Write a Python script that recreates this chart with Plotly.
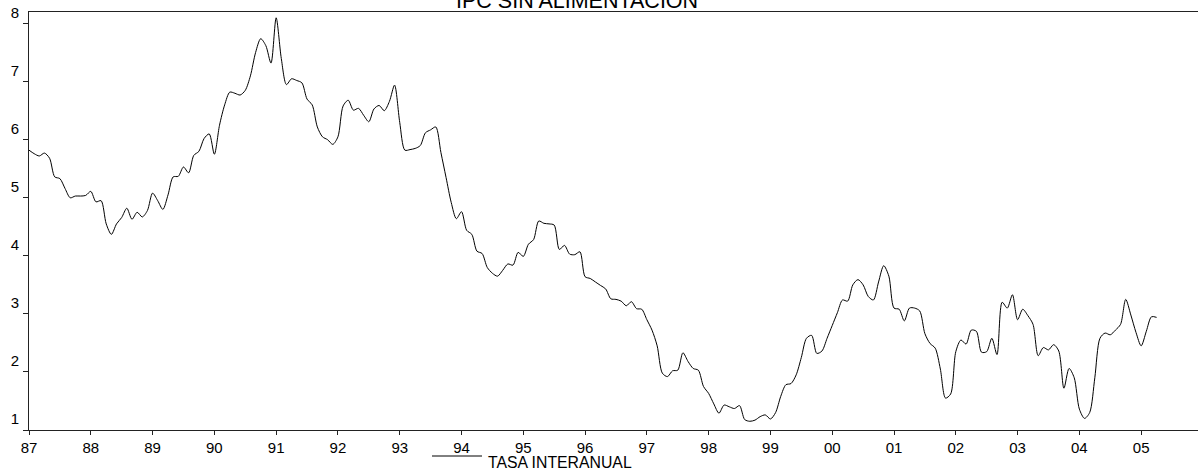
import plotly.graph_objects as go

# Monthly year-on-year rate, Jan 1987 .. Apr 2005
start_year = 1987
tasa_interanual = [
    # 1987
    5.82, 5.76, 5.72, 5.77, 5.68, 5.36, 5.33, 5.16, 5.00, 5.03, 5.03, 5.04,
    # 1988
    5.11, 4.93, 4.95, 4.55, 4.37, 4.55, 4.66, 4.82, 4.63, 4.75, 4.67, 4.78,
    # 1989
    5.08, 4.95, 4.80, 5.05, 5.36, 5.37, 5.53, 5.43, 5.73, 5.80, 6.02, 6.10,
    # 1990
    5.75, 6.25, 6.60, 6.82, 6.80, 6.77, 6.85, 7.10, 7.50, 7.74, 7.62, 7.32,
    # 1991
    8.10, 7.40, 6.95, 7.05, 7.02, 6.98, 6.70, 6.60, 6.22, 6.05, 6.00, 5.92,
    # 1992
    6.05, 6.58, 6.68, 6.51, 6.54, 6.42, 6.31, 6.53, 6.59, 6.50, 6.66, 6.94,
    # 1993
    6.30, 5.82, 5.83, 5.85, 5.90, 6.12, 6.17, 6.22, 5.78, 5.35, 4.92, 4.64,
    # 1994
    4.76, 4.44, 4.37, 4.08, 4.04, 3.80, 3.70, 3.65, 3.75, 3.86, 3.84, 4.06,
    # 1995
    3.99, 4.20, 4.28, 4.60, 4.56, 4.55, 4.53, 4.11, 4.18, 4.03, 4.02, 4.07,
    # 1996
    3.64, 3.61, 3.55, 3.49, 3.43, 3.26, 3.25, 3.22, 3.14, 3.21, 3.09, 3.08,
    # 1997
    2.90, 2.72, 2.45, 1.98, 1.92, 2.02, 2.03, 2.33, 2.18, 2.06, 2.03, 1.75,
    # 1998
    1.63, 1.45, 1.29, 1.43, 1.40, 1.37, 1.42, 1.18, 1.15, 1.17, 1.23, 1.26,
    # 1999
    1.19, 1.30, 1.58, 1.78, 1.80, 1.95, 2.25, 2.58, 2.63, 2.32, 2.36, 2.58,
    # 2000
    2.80, 3.02, 3.24, 3.22, 3.50, 3.59, 3.50, 3.30, 3.24, 3.55, 3.83, 3.65,
    # 2001
    3.10, 3.08, 2.88, 3.10, 3.10, 3.05, 2.66, 2.49, 2.41, 2.05, 1.55, 1.62,
    # 2002
    2.35, 2.55, 2.48, 2.72, 2.70, 2.34, 2.35, 2.58, 2.30, 3.20, 3.10, 3.33,
    # 2003
    2.90, 3.08, 2.97, 2.82, 2.28, 2.42, 2.38, 2.47, 2.36, 1.72, 2.06, 1.90,
    # 2004
    1.36, 1.20, 1.30, 1.90, 2.58, 2.67, 2.64, 2.72, 2.82, 3.25, 2.98, 2.68,
    # 2005
    2.45, 2.70, 2.95, 2.94,
]

dates = [start_year + i / 12.0 for i in range(len(tasa_interanual))]

year_ticks = list(range(1987, 2006))
year_labels = [f"{y % 100:02d}" for y in year_ticks]
y_ticks = [1, 2, 3, 4, 5, 6, 7, 8]

title_text = "IPC SIN ALIMENTACION"
legend_text = "TASA INTERANUAL"

FONT = "Liberation Sans, Arial, sans-serif"

fig = go.Figure()
fig.add_trace(go.Scatter(
    x=dates, y=tasa_interanual, mode="lines",
    line=dict(color="black", width=1, shape="spline", smoothing=0.8),
    showlegend=False, hoverinfo="skip",
))

W, H = 1198, 475
ml, mr, mt, mb = 29, 0, 12, 45
pw, ph = W - ml - mr, H - mt - mb


def px_x(p):
    return (p - ml) / pw


def px_y(p):
    return (H - mb - p) / ph


fig.update_layout(
    width=W, height=H, autosize=False,
    margin=dict(l=ml, r=mr, t=mt, b=mb),
    paper_bgcolor="white", plot_bgcolor="white",
    font=dict(family=FONT, size=15, color="black"),
    xaxis=dict(
        range=[1987, 2005.92], tickvals=year_ticks, ticktext=year_labels,
        showgrid=False, zeroline=False,
        showline=True, linecolor="#222", linewidth=1, mirror=True,
        ticks="outside", ticklen=4, tickcolor="#222", tickwidth=1,
        tickfont=dict(size=15, family=FONT),
    ),
    yaxis=dict(
        range=[1, 8.2], tickvals=y_ticks,
        showgrid=False, zeroline=False,
        showline=True, linecolor="#222", linewidth=1, mirror=False,
        ticks="outside", ticklen=5, tickcolor="#222", tickwidth=1,
        tickfont=dict(size=15, family=FONT),
        ticklabelposition="outside top", ticklabelstandoff=6,
    ),
)

# Title
fig.add_annotation(
    text=title_text, xref="paper", yref="paper",
    x=px_x(577), y=1, xanchor="center", yanchor="bottom",
    yshift=-3, showarrow=False, font=dict(size=21.5, family=FONT, color="black"),
)

# Legend sample line and label
fig.add_shape(
    type="line", xref="paper", yref="paper",
    x0=px_x(432), x1=px_x(482), y0=px_y(456), y1=px_y(456),
    line=dict(color="black", width=1),
)
fig.add_annotation(
    text=legend_text, xref="paper", yref="paper",
    x=px_x(486), y=px_y(462.5), xanchor="left", yanchor="middle",
    showarrow=False, font=dict(size=15.8, family=FONT, color="black"),
)

fig.write_html(
    "out.html",
    config={"displayModeBar": False, "staticPlot": True},
    post_script="document.body.style.margin='0';document.body.style.overflow='hidden';",
)
